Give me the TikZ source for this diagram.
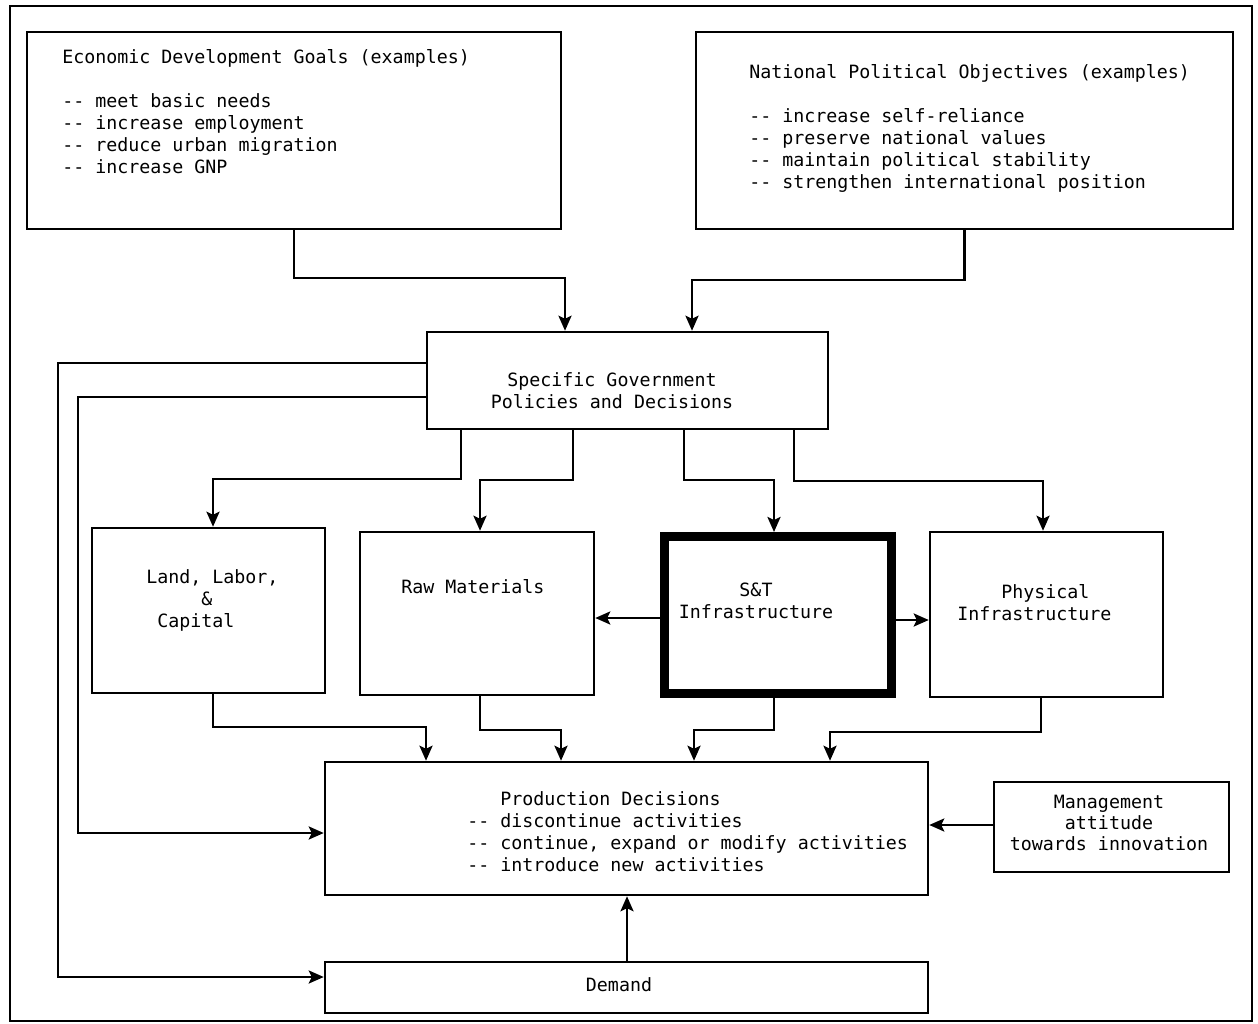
\documentclass[tikz,border=0pt]{standalone}
\usepackage{fontspec}
\setmonofont{DejaVu Sans Mono}
\usetikzlibrary{arrows.meta,fit}
\begin{document}
\begin{tikzpicture}[x=1pt,y=-1pt,line width=2.5pt,
  box/.style={draw,inner sep=0pt,rectangle},
  txt/.style={font=\ttfamily\fontsize{18.3}{22}\selectfont,inner sep=0pt},
  arr/.style={-{Stealth[length=15pt,width=13pt,inset=3pt]},line width=2.5pt}]
\useasboundingbox (0,0) rectangle (1258,1024);
% frame
\node[box,fit={(10,6) (1252,1021)}] (frame) {};
% boxes
\node[box,fit={(27,32) (561,229)}] (econ) {};
\node[box,fit={(696,32) (1233,229)}] (nat) {};
\node[box,fit={(427,332) (828,429)}] (gov) {};
\node[box,fit={(92,528) (325,693)}] (land) {};
\node[box,fit={(360,532) (594,695)}] (raw) {};
\node[box,line width=9pt,fit={(664.5,536.5) (891.5,693.5)}] (st) {};
\node[box,fit={(930,532) (1163,697)}] (phys) {};
\node[box,fit={(325,762) (928,895)}] (prod) {};
\node[box,fit={(994,782) (1229,872)}] (mgmt) {};
\node[box,fit={(325,962) (928,1013)}] (dem) {};
% texts
\node[txt,anchor=north west,align=left] (econT) at (61,48.5)
  {Economic Development Goals (examples)\\[22pt]
   -{}- meet basic needs\\
   -{}- increase employment\\
   -{}- reduce urban migration\\
   -{}- increase GNP};
\node[txt,anchor=north west,align=left] (natT) at (748,63.5)
  {National Political Objectives (examples)\\[22pt]
   -{}- increase self-reliance\\
   -{}- preserve national values\\
   -{}- maintain political stability\\
   -{}- strengthen international position};
\node[txt,anchor=north,align=center] (govT) at (612,371.5)
  {Specific Government\\Policies and Decisions};
\node[txt,anchor=north west,align=left] (landT) at (145,568.5)
  {Land, Labor,\\\phantom{xxxxx}\&\\\phantom{x}Capital};
\node[txt,anchor=north west] (rawT) at (400,578.5) {Raw Materials};
\node[txt,anchor=north,align=center] (stT) at (756,581.5)
  {S\&T\\Infrastructure};
\node[txt,anchor=north west,align=left] (physT) at (956,583.5)
  {\phantom{xxxx}Physical\\Infrastructure};
\node[txt,anchor=north west,align=left] (prodT) at (466,790)
  {\phantom{xxx}Production Decisions\\
   -{}- discontinue activities\\
   -{}- continue, expand or modify activities\\
   -{}- introduce new activities};
\node[txt,anchor=north,align=center,font=\ttfamily\fontsize{18.3}{21}\selectfont] (mgmtT) at (1109,793.5)
  {Management\\attitude\\towards innovation};
\node[txt,anchor=north] (demT) at (619,976.5) {Demand};
% connectors: goals to government
\coordinate (e1) at (565,278);
\draw[arr] (econ.south) |- (e1) -- (e1 |- gov.north);
\coordinate (n1) at (692,280);
\draw[arr] (nat.south) |- (n1) -- (n1 |- gov.north);
% government to demand and production (left side)
\coordinate (g1) at (58,363);
\coordinate (g2) at (58,977);
\draw[arr] (g1 -| gov.west) -- (g1) -- (g2) -- (g2 -| dem.west);
\coordinate (g3) at (78,397);
\coordinate (g4) at (78,833);
\draw[arr] (g3 -| gov.west) -- (g3) -- (g4) -- (g4 -| prod.west);
% government to the four factor boxes
\coordinate (b1) at (461,479); \coordinate (b1e) at (213,479);
\draw[arr] (b1 |- gov.south) -- (b1) -- (b1e) -- (b1e |- land.north);
\coordinate (b2) at (573,480); \coordinate (b2e) at (480,480);
\draw[arr] (b2 |- gov.south) -- (b2) -- (b2e) -- (b2e |- raw.north);
\coordinate (b3) at (684,480); \coordinate (b3e) at (774,480);
\draw[arr] (b3 |- gov.south) -- (b3) -- (b3e) -- (b3e |- st.north);
\coordinate (b4) at (794,481); \coordinate (b4e) at (1043,481);
\draw[arr] (b4 |- gov.south) -- (b4) -- (b4e) -- (b4e |- phys.north);
% S&T to neighbours
\draw[arr] (st.west |- 0,618) -- (raw.east |- 0,618);
\draw[arr] (st.east |- 0,620) -- (phys.west |- 0,620);
% factor boxes to production
\coordinate (p1) at (213,727); \coordinate (p1e) at (426,727);
\draw[arr] (p1 |- land.south) -- (p1) -- (p1e) -- (p1e |- prod.north);
\coordinate (p2) at (480,730); \coordinate (p2e) at (561,730);
\draw[arr] (p2 |- raw.south) -- (p2) -- (p2e) -- (p2e |- prod.north);
\coordinate (p3) at (774,730); \coordinate (p3e) at (694,730);
\draw[arr] (p3 |- st.south) -- (p3) -- (p3e) -- (p3e |- prod.north);
\coordinate (p4) at (1041,732); \coordinate (p4e) at (830,732);
\draw[arr] (p4 |- phys.south) -- (p4) -- (p4e) -- (p4e |- prod.north);
% management and demand to production
\draw[arr] (mgmt.west |- 0,825) -- (prod.east |- 0,825);
\draw[arr] (dem.north -| 627,0) -- (prod.south -| 627,0);
\end{tikzpicture}
\end{document}
